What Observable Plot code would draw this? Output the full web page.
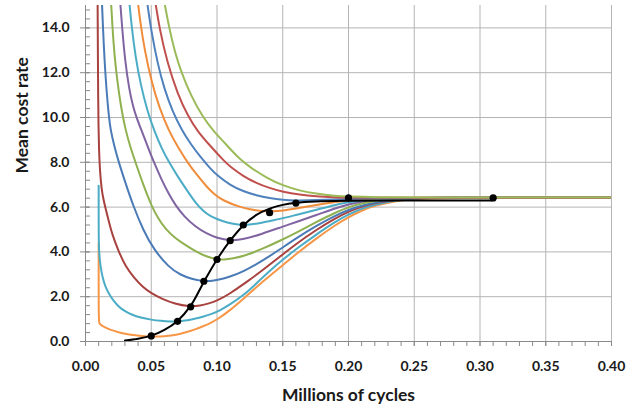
<!DOCTYPE html>
<html>
<head>
<meta charset="utf-8">
<script src="https://cdn.jsdelivr.net/npm/d3@7"></script>
<script src="https://cdn.jsdelivr.net/npm/@observablehq/plot@0.6"></script>
<style>
  html, body { margin: 0; padding: 0; background: #ffffff; }
  #chart { width: 639px; height: 408px; }
</style>
</head>
<body>
<div id="chart"></div>
<script>
// ---- data (x = millions of cycles, y = mean cost rate) ----
const xTicks = [0, 0.05, 0.10, 0.15, 0.20, 0.25, 0.30, 0.35, 0.40];
const yTicks = [0, 2, 4, 6, 8, 10, 12, 14];
const xMinor = d3.range(0, 41).map(i => i / 100);
const yMinor = d3.range(0, 38).map(i => +(i * 0.4).toFixed(1));

const curveOrangeLow = [[0.01,4.4],[0.01,4.4],[0.01,0.95],[0.0104,0.8],[0.012,0.72],[0.015,0.63],[0.02,0.5],[0.025,0.41],[0.031,0.33],[0.038,0.27],[0.045,0.235],[0.05,0.22],[0.057,0.22],[0.063,0.25],[0.07,0.31],[0.076,0.4],[0.0837,0.55],[0.0887,0.66],[0.095,0.82],[0.1,0.98],[0.109,1.35],[0.12,1.9],[0.1356,2.72],[0.15,3.4],[0.16,3.9],[0.175,4.58],[0.19,5.2],[0.2,5.55],[0.21,5.85],[0.22,6.07],[0.235,6.27],[0.25,6.37],[0.27,6.42],[0.4,6.42]];
const curveCyanLow = [[0.01,6.95],[0.01,6.95],[0.01,4.6],[0.0104,3.9],[0.0114,3.35],[0.013,2.85],[0.015,2.45],[0.019,2.0],[0.024,1.62],[0.029,1.38],[0.035,1.2],[0.042,1.06],[0.05,0.97],[0.057,0.92],[0.065,0.89],[0.07,0.9],[0.078,0.95],[0.0837,1.02],[0.09,1.12],[0.095,1.2],[0.1027,1.4],[0.109,1.62],[0.12,2.05],[0.1305,2.62],[0.14,3.15],[0.15,3.65],[0.16,4.12],[0.175,4.76],[0.19,5.35],[0.2,5.67],[0.21,5.93],[0.22,6.12],[0.235,6.3],[0.25,6.39],[0.265,6.42],[0.4,6.42]];
const curveRedLow = [[0.0092,15.3],[0.0094,13],[0.0096,11],[0.0099,9.5],[0.0103,8.5],[0.011,7.6],[0.0122,6.8],[0.0138,6.3],[0.0152,5.95],[0.018,5.3],[0.0205,4.75],[0.025,4.05],[0.0304,3.35],[0.037,2.85],[0.0431,2.45],[0.05,2.15],[0.0583,1.9],[0.068,1.68],[0.0786,1.56],[0.0875,1.6],[0.0938,1.7],[0.1,1.82],[0.109,2.1],[0.1255,2.78],[0.134,3.15],[0.147,3.75],[0.16,4.35],[0.175,4.97],[0.19,5.5],[0.2,5.8],[0.21,6.02],[0.22,6.18],[0.235,6.33],[0.25,6.4],[0.26,6.42],[0.4,6.42]];
const curveBlueLow = [[0.0124,15.3],[0.0133,14],[0.0145,12.5],[0.016,11.2],[0.0175,10.2],[0.019,9.45],[0.022,8.7],[0.0253,8.0],[0.03,7.15],[0.036,6.1],[0.044,4.95],[0.052,4.1],[0.0634,3.31],[0.072,2.98],[0.081,2.78],[0.089,2.69],[0.095,2.7],[0.1,2.74],[0.109,2.87],[0.12,3.12],[0.134,3.58],[0.147,4.08],[0.16,4.6],[0.175,5.15],[0.19,5.62],[0.2,5.88],[0.21,6.07],[0.22,6.21],[0.235,6.34],[0.25,6.4],[0.26,6.42],[0.4,6.42]];
const curveGreenLow = [[0.0193,15.3],[0.0205,14],[0.022,12.8],[0.024,11.7],[0.027,10.45],[0.0304,9.45],[0.034,8.7],[0.038,8.0],[0.044,6.98],[0.05,6.08],[0.055,5.52],[0.061,5.0],[0.068,4.62],[0.076,4.3],[0.085,3.98],[0.0925,3.78],[0.1,3.67],[0.105,3.65],[0.112,3.7],[0.1217,3.84],[0.134,4.12],[0.147,4.47],[0.16,4.85],[0.175,5.32],[0.19,5.76],[0.2,6.0],[0.21,6.17],[0.22,6.28],[0.235,6.37],[0.25,6.41],[0.26,6.42],[0.4,6.42]];
const curvePurple = [[0.0262,15.3],[0.028,13.9],[0.03,12.6],[0.033,11.3],[0.037,10.25],[0.0431,9.35],[0.047,8.75],[0.052,8.0],[0.058,7.2],[0.063,6.62],[0.0684,6.08],[0.075,5.58],[0.0837,5.12],[0.092,4.82],[0.1,4.62],[0.11,4.5],[0.12,4.55],[0.134,4.8],[0.15,5.13],[0.16,5.33],[0.175,5.63],[0.19,5.95],[0.2,6.12],[0.21,6.25],[0.22,6.33],[0.235,6.39],[0.25,6.42],[0.4,6.42]];
const curveCyanHigh = [[0.0331,15.3],[0.035,14.1],[0.038,12.7],[0.042,11.45],[0.047,10.3],[0.052,9.45],[0.058,8.6],[0.064,7.95],[0.07,7.38],[0.077,6.76],[0.0837,6.18],[0.09,5.8],[0.095,5.6],[0.1,5.46],[0.108,5.3],[0.115,5.22],[0.12,5.2],[0.126,5.22],[0.134,5.3],[0.142,5.4],[0.15,5.5],[0.16,5.65],[0.175,5.87],[0.19,6.1],[0.2,6.22],[0.21,6.3],[0.22,6.36],[0.235,6.4],[0.25,6.42],[0.4,6.42]];
const curveOrangeHigh = [[0.0395,15.3],[0.0418,14.2],[0.045,13.0],[0.05,11.65],[0.056,10.45],[0.0634,9.4],[0.07,8.7],[0.078,7.95],[0.085,7.42],[0.092,6.92],[0.098,6.56],[0.105,6.28],[0.1166,6.02],[0.125,5.9],[0.134,5.82],[0.142,5.8],[0.15,5.84],[0.16,5.93],[0.17,6.04],[0.18,6.14],[0.19,6.23],[0.2,6.3],[0.21,6.35],[0.22,6.38],[0.235,6.41],[0.25,6.42],[0.4,6.42]];
const curveBlueHigh = [[0.0465,15.3],[0.05,13.85],[0.055,12.36],[0.06,11.27],[0.066,10.3],[0.0735,9.4],[0.08,8.82],[0.0875,8.22],[0.095,7.72],[0.1,7.42],[0.11,6.98],[0.12,6.7],[0.13,6.52],[0.14,6.4],[0.15,6.32],[0.16,6.29],[0.17,6.3],[0.18,6.32],[0.2,6.37],[0.22,6.4],[0.25,6.42],[0.4,6.42]];
const curveRedHigh = [[0.0527,15.3],[0.0565,13.9],[0.062,12.5],[0.07,11.05],[0.078,10.05],[0.085,9.4],[0.095,8.72],[0.105,8.08],[0.11,7.8],[0.12,7.38],[0.13,7.07],[0.14,6.85],[0.15,6.68],[0.163,6.55],[0.175,6.48],[0.19,6.44],[0.2,6.42],[0.25,6.42],[0.4,6.42]];
const curveGreenHigh = [[0.0595,15.3],[0.0636,14.0],[0.068,12.9],[0.073,12.0],[0.08,11.0],[0.0893,10.0],[0.0976,9.38],[0.105,8.92],[0.11,8.6],[0.1166,8.18],[0.1255,7.76],[0.138,7.3],[0.15,6.96],[0.163,6.73],[0.175,6.6],[0.19,6.5],[0.2,6.47],[0.22,6.44],[0.25,6.43],[0.4,6.43]];

const optimumLine = [[0.03,0.04],[0.04,0.12],[0.05,0.26],[0.06,0.52],[0.07,0.92],[0.08,1.6],[0.09,2.66],[0.1,3.66],[0.11,4.5],[0.12,5.18],[0.13,5.65],[0.14,5.93],[0.15,6.1],[0.16,6.19],[0.175,6.25],[0.2,6.28],[0.25,6.29],[0.309,6.29]];
const optimumX = [0.05, 0.07, 0.08, 0.09, 0.10, 0.11, 0.12, 0.14, 0.16, 0.20, 0.31];
const optimumY = [0.25, 0.9, 1.55, 2.69, 3.66, 4.5, 5.2, 5.75, 6.18, 6.41, 6.41];

const series = [
  {data: curveOrangeLow, color: "#F79646"},
  {data: curveCyanLow, color: "#4BACC6"},
  {data: curveRedLow, color: "#A8423F"},
  {data: curveBlueLow, color: "#4A7BB7"},
  {data: curveGreenLow, color: "#8FB150"},
  {data: curvePurple, color: "#8064A2"},
  {data: curveCyanHigh, color: "#4BACC6"},
  {data: curveOrangeHigh, color: "#F08C3A"},
  {data: curveBlueHigh, color: "#4F81BD"},
  {data: curveRedHigh, color: "#C0504D"},
  {data: curveGreenHigh, color: "#9BBB59"}
];
const dots = optimumX.map((x, i) => ({x, y: optimumY[i]}));

const font = "Lato, 'Open Sans', 'DejaVu Sans', sans-serif";
const gridColor = "#B4B4B4";
const axisColor = "#8A8A8A";

const chart = Plot.plot({
  width: 639,
  height: 408,
  marginLeft: 85,
  marginRight: 28,
  marginTop: 5,
  marginBottom: 67,
  x: {domain: [0, 0.4]},
  y: {domain: [0, 15]},
  style: {fontFamily: font, background: "#ffffff", color: "#1a1a1a", overflow: "visible"},
  marks: [
    Plot.gridX(xTicks, {stroke: gridColor, strokeOpacity: 1, strokeWidth: 1}),
    Plot.gridY(yTicks, {stroke: gridColor, strokeOpacity: 1, strokeWidth: 1}),
    Plot.ruleX([0], {stroke: axisColor, strokeWidth: 1}),
    Plot.ruleY([0], {stroke: axisColor, strokeWidth: 1}),
    // x axis ticks + labels
    Plot.axisX({ticks: xMinor, tickSize: 5, tickFormat: () => "", label: null, stroke: axisColor}),
    Plot.axisX({ticks: xTicks, tickSize: 5, tickPadding: 15, tickFormat: d => d.toFixed(2), label: null, stroke: axisColor, fontSize: 14, fontWeight: "bold"}),
    // y axis ticks + labels
    Plot.axisY({ticks: yMinor, tickSize: 5, dx: 5, tickFormat: () => "", label: null, stroke: axisColor}),
    Plot.axisY({ticks: yTicks, tickSize: 9, dx: 4, tickFormat: () => "", label: null, stroke: axisColor}),
    Plot.axisY({ticks: yTicks, tickSize: 0, tickPadding: 16, tickFormat: d => d.toFixed(1), label: null, fontSize: 14, fontWeight: "bold"}),
    // cost-rate curves (smoothed like the spreadsheet's smoothed lines)
    ...series.map(s => Plot.line(s.data, {x: d => d[0], y: d => d[1], stroke: s.color, strokeWidth: 2, curve: "basis", clip: true})),
    // optimum path
    Plot.line(optimumLine, {x: d => d[0], y: d => d[1], stroke: "#000000", strokeWidth: 2, curve: "catmull-rom", clip: true}),
    Plot.dot(dots, {x: "x", y: "y", r: 3.6, fill: "#000000", stroke: "none"}),
    // axis titles
    Plot.text(["Millions of cycles"], {frameAnchor: "bottom", dy: 54, fontSize: 17.5, fontWeight: "bold", lineAnchor: "middle"}),
    Plot.text(["Mean cost rate"], {frameAnchor: "left", dx: -63, rotate: -90, fontSize: 17.5, fontWeight: "bold", lineAnchor: "middle"})
  ]
});
document.getElementById("chart").appendChild(chart);
</script>
</body>
</html>
